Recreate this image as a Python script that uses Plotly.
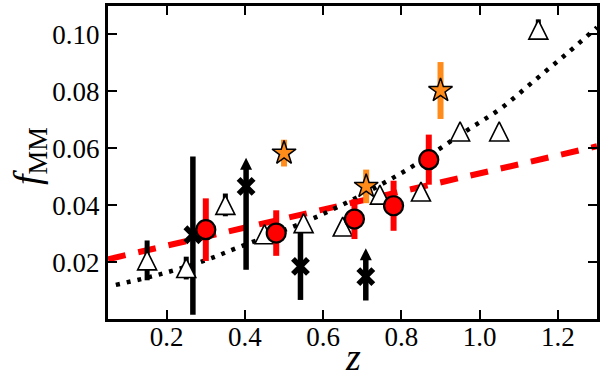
import plotly.graph_objects as go

# ---- data ----
# red circles
circ_z = [0.30, 0.48, 0.68, 0.78, 0.87]
circ_f = [0.0314, 0.0302, 0.0351, 0.0398, 0.0560]
circ_err = [0.0110, 0.0080, 0.0070, 0.0088, 0.0088]

# orange stars
star_z = [0.50, 0.71, 0.90]
star_f = [0.0583, 0.0466, 0.0803]
star_err = [0.0047, 0.0059, 0.0100]

# open triangles
tri_z = [0.15, 0.25, 0.35, 0.45, 0.55, 0.65, 0.745, 0.85, 0.95, 1.05, 1.15]
tri_f = [0.0206, 0.0179, 0.0401, 0.0298, 0.0337, 0.0325, 0.0437, 0.0448, 0.0659, 0.0659, 0.1017]
tri_err = [0.0070, 0.0040, 0.0040, 0.0020, 0.0020, 0.0020, 0.0020, 0.0020, 0.0020, 0.0020, 0.0036]

# black crosses with vertical ranges
cross_z = [0.267, 0.403, 0.542, 0.709]
cross_f = [0.0296, 0.0466, 0.0185, 0.0149]
cross_lo = [0.0015, 0.0173, 0.0067, 0.0065]
cross_hi = [0.0571, 0.0545, 0.0303, 0.0228]

# lower-limit arrow tips
arrow_z = [0.403, 0.709]
arrow_tip = [0.0567, 0.0249]

# model curves
dash_z = [0.05, 1.30]
dash_f = [0.0210, 0.0607]
dot_z = [0.07, 0.18, 0.30, 0.38, 0.59, 0.80, 0.97, 1.055, 1.14, 1.225, 1.30]
dot_f = [0.0120, 0.0156, 0.0207, 0.0250, 0.0363, 0.0513, 0.0665, 0.0741, 0.0838, 0.0935, 0.1025]

x_ticks = [0.2, 0.4, 0.6, 0.8, 1.0, 1.2]
y_ticks = [0.02, 0.04, 0.06, 0.08, 0.10]

RED = "#ff0000"
ORANGE = "#ff8c1a"
FONT = "Liberation Serif, 'DejaVu Serif', serif"

fig = go.Figure()

fig.add_trace(go.Scatter(x=dash_z, y=dash_f, mode="lines",
                         line=dict(color=RED, width=6, dash="18px,13px"),
                         hoverinfo="skip"))
fig.add_trace(go.Scatter(x=dot_z, y=dot_f, mode="lines",
                         line=dict(color="black", width=4.5, dash="4px,7px", shape="spline"),
                         hoverinfo="skip"))

fig.add_trace(go.Scatter(
    x=cross_z, y=cross_f, mode="markers",
    marker=dict(symbol="x-thin", size=15, color="black",
                line=dict(color="black", width=5.5)),
    error_y=dict(type="data", symmetric=False,
                 array=[h - f for h, f in zip(cross_hi, cross_f)],
                 arrayminus=[f - l for f, l in zip(cross_f, cross_lo)],
                 color="black", thickness=5.5, width=0)))

fig.add_trace(go.Scatter(
    x=arrow_z, y=arrow_tip, mode="markers",
    marker=dict(symbol="arrow-up", size=12, color="black", line=dict(width=0))))

fig.add_trace(go.Scatter(
    x=tri_z, y=tri_f, mode="markers",
    marker=dict(symbol="arrow-down", angle=180, standoff=9.5, size=19,
                color="white", line=dict(color="black", width=1.6)),
    error_y=dict(type="data", array=tri_err, color="black", thickness=5, width=0)))

fig.add_trace(go.Scatter(
    x=star_z, y=star_f, mode="markers",
    marker=dict(symbol="star", size=18, color=ORANGE,
                line=dict(color="black", width=1.5)),
    error_y=dict(type="data", array=star_err, color=ORANGE, thickness=6, width=0)))

fig.add_trace(go.Scatter(
    x=circ_z, y=circ_f, mode="markers",
    marker=dict(symbol="circle", size=19, color=RED,
                line=dict(color="black", width=2.2)),
    error_y=dict(type="data", array=circ_err, color=RED, thickness=6, width=0)))

axis_common = dict(showline=True, linewidth=3, linecolor="black", mirror="ticks",
                   ticks="inside", ticklen=9, tickwidth=2, tickcolor="black",
                   showgrid=False, zeroline=False,
                   tickfont=dict(family=FONT, size=27, color="black"))

fig.update_xaxes(range=[0.05, 1.30], tickvals=x_ticks,
                 ticktext=[f"{v:.1f}" for v in x_ticks],
                 ticklabelstandoff=-8,
                 **axis_common)
fig.update_yaxes(range=[0.0, 0.11], tickvals=y_ticks,
                 ticktext=[f"{v:.2f}" for v in y_ticks],
                 **axis_common)

fig.add_annotation(text="<i>z</i>", xref="paper", yref="paper", x=0.5, y=-0.1917,
                   xanchor="center", yanchor="bottom", showarrow=False, borderpad=0,
                   font=dict(family=FONT, size=38, color="black"))
fig.add_annotation(text="<i>f</i><sub>MM</sub>", xref="paper", yref="paper",
                   x=-0.16, y=0.52, textangle=-90,
                   xanchor="center", yanchor="middle", showarrow=False,
                   font=dict(family=FONT, size=38, color="black"))

fig.update_layout(width=600, height=379, showlegend=False,
                  margin=dict(l=108, r=3, t=6, b=60, autoexpand=False),
                  plot_bgcolor="white", paper_bgcolor="white")

fig.write_html("out.html", config={"displayModeBar": False},
               post_script="document.body.style.margin='0px';document.body.style.overflow='hidden';")
